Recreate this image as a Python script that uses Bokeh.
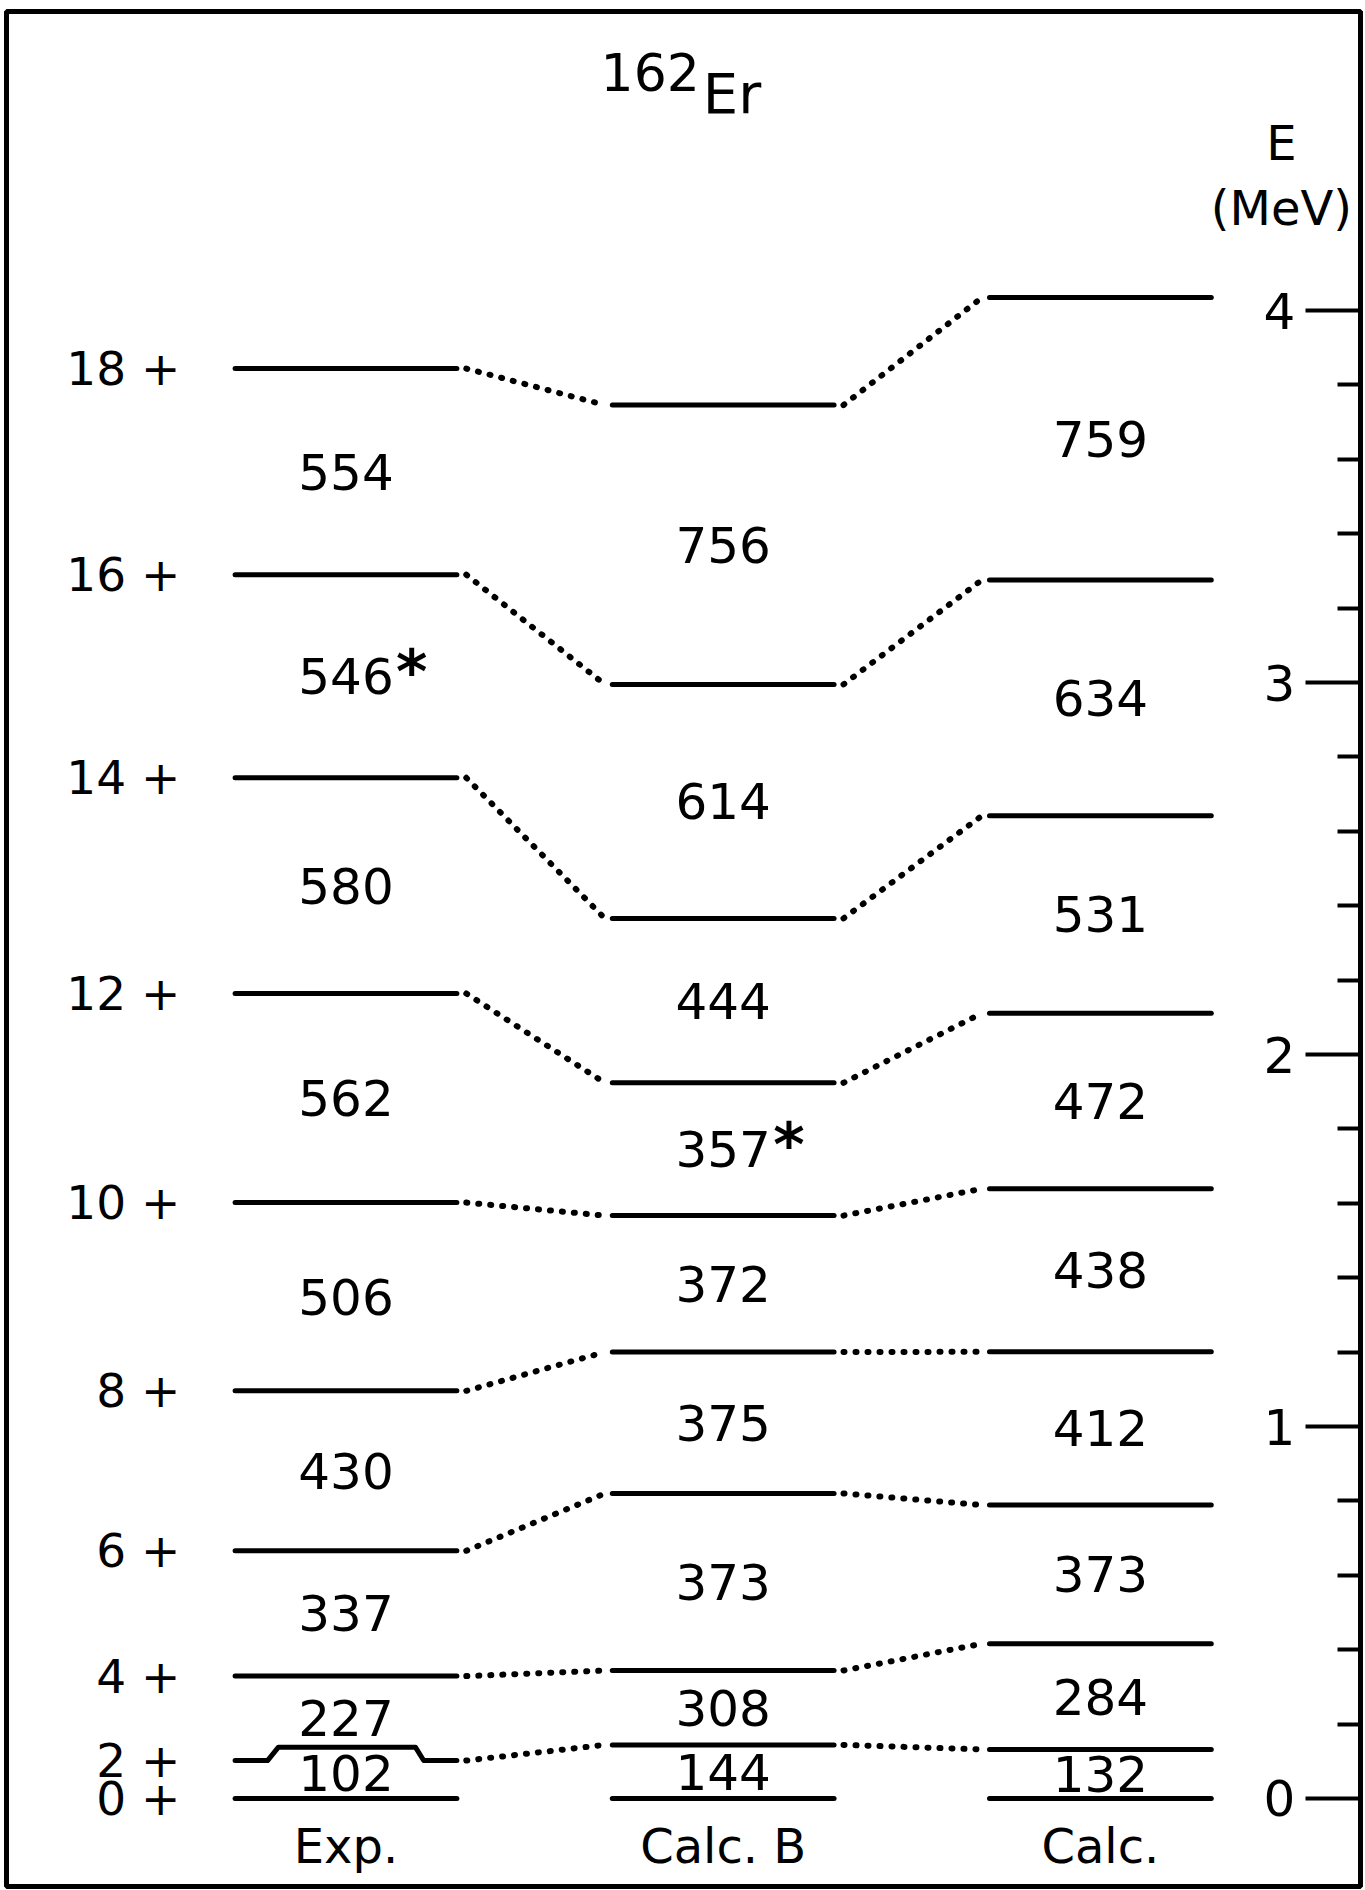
from bokeh.plotting import figure
from bokeh.models import Range1d, LinearAxis, FixedTicker
from bokeh.core.properties import value
from bokeh.embed import file_html
from bokeh.resources import INLINE

# ---- data ----
spins = ["0 +", "2 +", "4 +", "6 +", "8 +", "10 +", "12 +", "14 +", "16 +", "18 +"]
columns = ["Exp.", "Calc. B", "Calc."]
# level energies (MeV) as drawn
exp_levels = [0.0, 0.102, 0.329, 0.666, 1.096, 1.602, 2.164, 2.744, 3.290, 3.844]
calcb_levels = [0.0, 0.144, 0.344, 0.820, 1.200, 1.567, 1.924, 2.366, 2.995, 3.746]
calc_levels = [0.0, 0.132, 0.416, 0.789, 1.201, 1.639, 2.111, 2.642, 3.276, 4.035]
# transition energies (keV) labels
exp_trans = ["102", "227", "337", "430", "506", "562", "580", "546*", "554"]
calcb_trans = ["144", "308", "373", "375", "372", "357*", "444", "614", "756"]
calc_trans = ["132", "284", "373", "412", "438", "472", "531", "634", "759"]
major_ticks = [0, 1, 2, 3, 4]
minor_ticks = [0.2, 0.4, 0.6, 0.8, 1.2, 1.4, 1.6, 1.8, 2.2, 2.4, 2.6, 2.8,
               3.2, 3.4, 3.6, 3.8]

levels = [exp_levels, calcb_levels, calc_levels]
trans = [exp_trans, calcb_trans, calc_trans]

FONT = value("DejaVu Sans")
HW = 0.294  # half width of level lines (column units)
UP = 0.036  # raise of the kinked Exp 2+ line

p = figure(width=1365, height=1890, output_backend="svg", toolbar_location=None,
           x_range=Range1d(-0.900, 2.6896), y_range=Range1d(-0.2366, 4.804),
           x_axis_location=None, y_axis_location=None,
           min_border_left=6, min_border_right=5, min_border_top=11, min_border_bottom=4)
p.grid.visible = False
p.outline_line_color = "black"
p.outline_line_width = 5
p.background_fill_color = "white"
p.border_fill_color = "white"

# level lines
x0, x1, yl = [], [], []
for c, L in enumerate(levels):
    for i, e in enumerate(L):
        if c == 0 and i == 1:
            continue  # drawn with a kink below
        x0.append(c - HW)
        x1.append(c + HW)
        yl.append(e)
p.segment(x0=x0, y0=yl, x1=x1, y1=yl, line_color="black", line_width=5, line_cap="round")

# Exp 2+ level with kink around the label
e2 = exp_levels[1]
p.line(x=[-HW, -0.208, -0.179, 0.184, 0.206, HW],
       y=[e2, e2, e2 + UP, e2 + UP, e2, e2],
       line_color="black", line_width=5, line_join="round", line_cap="round")

# dotted connectors
cx0, cy0, cx1, cy1 = [], [], [], []
for c in range(2):
    for i in range(1, len(spins)):
        cx0.append(c + HW + 0.025)
        cy0.append(levels[c][i])
        cx1.append(c + 1 - HW - 0.02)
        cy1.append(levels[c + 1][i])
p.segment(x0=cx0, y0=cy0, x1=cx1, y1=cy1, line_color="black", line_width=6,
          line_dash="1 11", line_cap="round")

# transition labels
tx, ty, tt, sx, sy = [], [], [], [], []
for c in range(3):
    L = levels[c]
    for i, lab in enumerate(trans[c]):
        top = L[i + 1] + (UP if (c == 0 and i == 0) else 0)
        ym = (L[i] + top) / 2
        num = lab.rstrip("*")
        tx.append(c)
        ty.append(ym)
        tt.append(num)
        if lab.endswith("*"):
            sx.append(c)
            sy.append(ym)
p.text(x=tx, y=ty, text=tt, text_align="center", text_baseline="middle",
       text_font=FONT, text_font_size="50px", text_color="black")
p.text(x=sx, y=sy, text=["*"] * len(sx), x_offset=50, y_offset=-4,
       text_align="left", text_baseline="middle",
       text_font=FONT, text_font_size="60px", text_font_style="bold", text_color="black")

# spin labels
p.text(x=[-0.439] * len(spins), y=exp_levels, text=spins, text_align="right",
       text_baseline="middle", text_font=FONT, text_font_size="47px", text_color="black")

# column names
p.text(x=[0, 1, 2], y=[-0.129] * 3, text=columns, text_align="center",
       text_baseline="middle", text_font=FONT, text_font_size="48px", text_color="black")

# title 162Er
p.text(x=[0.938], y=[4.642], text=["162"], text_align="right", text_baseline="middle",
       text_font=FONT, text_font_size="52px", text_color="black")
p.text(x=[0.946], y=[4.583], text=["Er"], text_align="left", text_baseline="middle",
       text_font=FONT, text_font_size="56px", text_color="black")

# energy axis title
p.text(x=[2.480, 2.480], y=[4.450, 4.275], text=["E", "(MeV)"], text_align="center",
       text_baseline="middle", text_font=FONT, text_font_size="48px", text_color="black")

# right energy axis, ticks inward
ax = LinearAxis(ticker=FixedTicker(ticks=major_ticks, minor_ticks=minor_ticks),
                major_tick_in=55, major_tick_out=0, minor_tick_in=23, minor_tick_out=0,
                major_tick_line_width=4, minor_tick_line_width=4,
                axis_line_width=5, major_label_standoff=-97,
                major_label_text_align="left",
                major_label_text_font="DejaVu Sans", major_label_text_font_size="50px",
                major_label_text_color="black")
p.add_layout(ax, "right")

open("out.html", "w").write(file_html(p, INLINE))
